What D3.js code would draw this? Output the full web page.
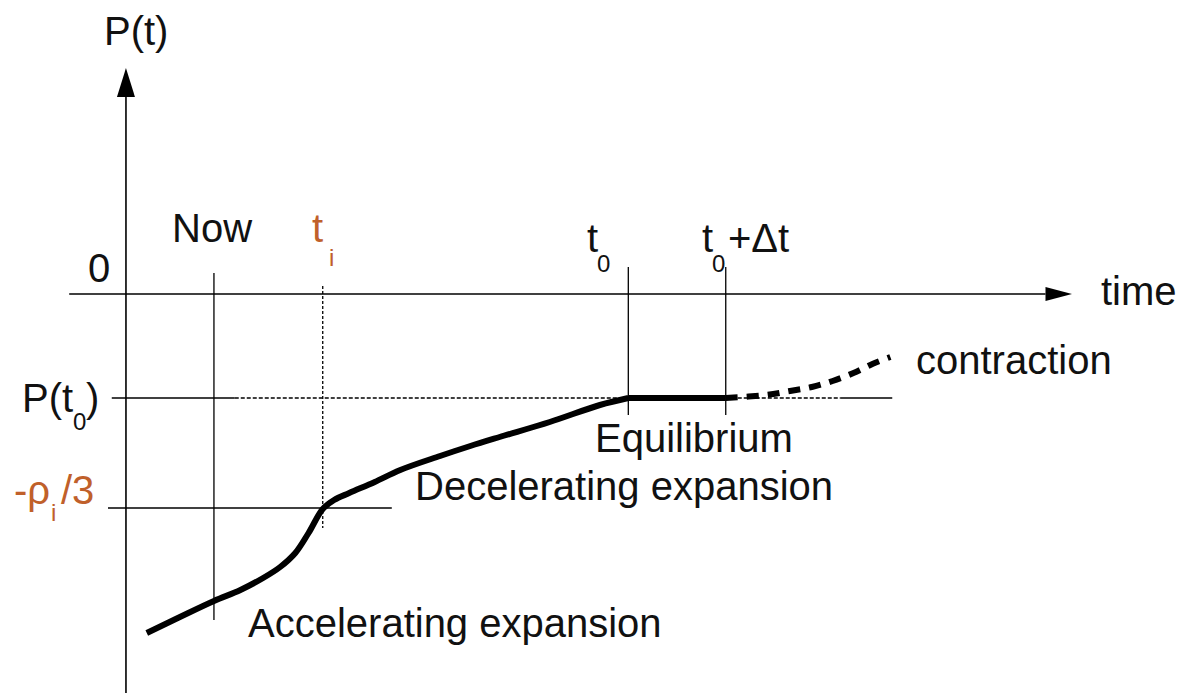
<!DOCTYPE html>
<html lang="en">
<head>
    <meta charset="UTF-8">
    <title>P(t) over time</title>
    <script src="https://d3js.org/d3.v7.min.js"></script>
    <style>
        body {
            margin: 0;
            background: #fff;
        }
        svg text {
            font-family: "Liberation Sans", Arial, sans-serif;
            font-size: 40px;
            fill: #111;
        }
        .orange { fill: #c0602a; }
    </style>
</head>
<body>
<script>
    // Data (time and P in arbitrary units)
    const curveT = [0.22, 0.57, 0.93, 1.21, 1.45, 1.63, 1.79, 1.93, 2.08, 2.20, 2.36, 2.63, 2.90, 3.32, 3.64, 3.95, 4.48, 5.01, 5.31];
    const curveP = [-3.39, -3.23, -3.07, -2.96, -2.84, -2.73, -2.59, -2.39, -2.15, -2.06, -1.99, -1.88, -1.76, -1.62, -1.52, -1.43, -1.28, -1.11, -1.04];

    const equilT = [5.31, 6.34];
    const equilP = [-1.04, -1.04];

    const contrT = [6.34, 6.77, 7.02, 7.25, 7.47, 7.69, 7.89, 8.08];
    const contrP = [-1.04, -1.01, -0.97, -0.93, -0.87, -0.79, -0.70, -0.63];

    const nowT = 0.93;
    const tiT = 2.08;
    const t0T = 5.31;
    const t0dT = 6.34;
    const P0 = -1.04;
    const Pi = -2.14;

    const width = 1186;
    const height = 696;

    const x = d3.scaleLinear().domain([-0.6, 10]).range([69.2, 1072]);
    const y = d3.scaleLinear().domain([-4, 2.26]).range([694, 68]);

    const svg = d3.select("body").append("svg")
        .attr("width", width)
        .attr("height", height);

    const line = d3.line()
        .x(d => x(d[0]))
        .y(d => y(d[1]))
        .curve(d3.curveCatmullRom);

    function hline(p, t1, t2, w, dash) {
        svg.append("line")
            .attr("x1", x(t1)).attr("x2", x(t2))
            .attr("y1", y(p)).attr("y2", y(p))
            .attr("stroke", "#000")
            .attr("stroke-width", w)
            .attr("stroke-dasharray", dash || null);
    }
    function vline(t, p1, p2, w, dash) {
        svg.append("line")
            .attr("x1", x(t)).attr("x2", x(t))
            .attr("y1", y(p1)).attr("y2", y(p2))
            .attr("stroke", "#000")
            .attr("stroke-width", w)
            .attr("stroke-dasharray", dash || null);
    }

    // axes
    vline(0, 1.97, -3.99, 1.6);
    hline(0, -0.6, 9.72, 1.6);
    svg.append("path")
        .attr("d", `M${x(0)},${y(2.26)} L${x(0) - 9},${y(1.97)} L${x(0) + 9},${y(1.97)} Z`)
        .attr("fill", "#000");
    svg.append("path")
        .attr("d", `M${x(10)},${y(0)} L${x(9.72)},${y(0) - 7} L${x(9.72)},${y(0) + 7} Z`)
        .attr("fill", "#000");

    // guide lines
    vline(nowT, 0.21, -3.26, 1.3);
    vline(tiT, 0.08, -2.34, 1.3, "3,2");
    vline(t0T, 0.27, -1.21, 1.3);
    vline(t0dT, 0.27, -1.21, 1.3);

    hline(P0, -0.15, 1.15, 1.3);
    hline(P0, 1.15, t0T, 1.3, "4,2");
    hline(P0, t0dT, 7.55, 1.3, "4,2");
    hline(P0, 7.55, 8.1, 1.3);
    hline(Pi, -0.19, 2.81, 1.3);

    // curve
    svg.append("path")
        .attr("d", line(d3.zip(curveT, curveP)))
        .attr("fill", "none")
        .attr("stroke", "#000")
        .attr("stroke-width", 6);

    svg.append("path")
        .attr("d", line(d3.zip(equilT, equilP)))
        .attr("fill", "none")
        .attr("stroke", "#000")
        .attr("stroke-width", 6);

    svg.append("path")
        .attr("d", line(d3.zip(contrT, contrP)))
        .attr("fill", "none")
        .attr("stroke", "#000")
        .attr("stroke-width", 6)
        .attr("stroke-dasharray", "12,9");

    // labels
    function label(xp, yp, cls) {
        return svg.append("text").attr("x", xp).attr("y", yp).attr("class", cls || null);
    }

    label(104, 45).text("P(t)");
    label(88, 282).text("0");
    label(172, 242).text("Now");

    const ti = label(312, 242, "orange");
    ti.append("tspan").text("t");
    ti.append("tspan").attr("x", 329).attr("y", 266).style("font-size", "24px").text("i");

    const t0 = label(587, 252);
    t0.append("tspan").text("t");
    t0.append("tspan").attr("x", 597).attr("y", 272).style("font-size", "24px").text("0");

    const t0d = label(702, 252);
    t0d.append("tspan").text("t");
    t0d.append("tspan").attr("x", 712).attr("y", 272).style("font-size", "24px").text("0");
    t0d.append("tspan").attr("x", 728).attr("y", 252).text("+Δt");

    label(1101, 305).text("time");
    label(916, 374).text("contraction");

    const pt0 = label(22, 412);
    pt0.append("tspan").text("P(t");
    pt0.append("tspan").attr("x", 73).attr("y", 430).style("font-size", "24px").text("0");
    pt0.append("tspan").attr("x", 86).attr("y", 412).text(")");

    const rho = label(14, 504, "orange");
    rho.append("tspan").text("-ρ");
    rho.append("tspan").attr("x", 51).attr("y", 521).style("font-size", "24px").text("i");
    rho.append("tspan").attr("x", 61).attr("y", 504).text("/3");

    label(595, 452).text("Equilibrium");
    label(415, 500).text("Decelerating expansion");
    label(248, 637).text("Accelerating expansion");
</script>
</body>
</html>
